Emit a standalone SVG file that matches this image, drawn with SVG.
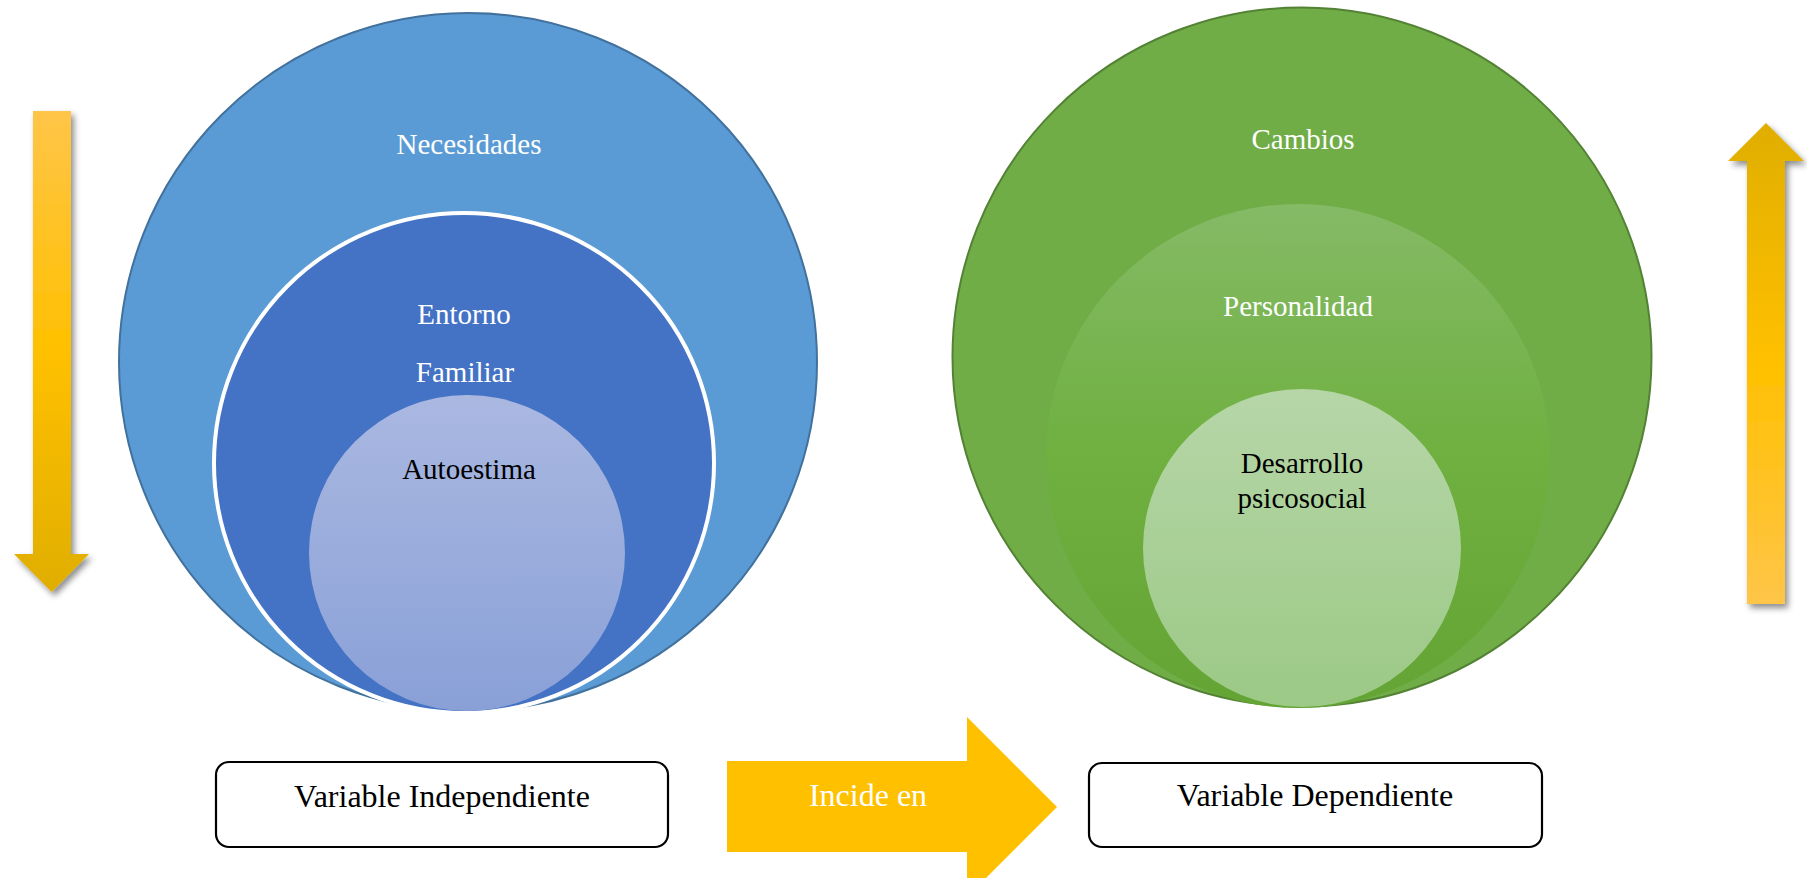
<svg xmlns="http://www.w3.org/2000/svg" width="1807" height="878" viewBox="0 0 1807 878">
<style>
  .lbl { font-family: "Liberation Serif", "Times New Roman", serif; font-size: 29px; text-anchor: middle; }
  .w { fill: #ffffff; }
  .k { fill: #000000; }
  .box { fill: #ffffff; stroke: #000000; stroke-width: 2.2; }
  .boxlbl { font-family: "Liberation Serif", "Times New Roman", serif; font-size: 32px; text-anchor: middle; fill: #000000; }
</style>
<defs>
  <linearGradient id="gAuto" x1="0" y1="0" x2="0" y2="1">
    <stop offset="0" stop-color="#AAB8E1"/>
    <stop offset="1" stop-color="#89A0D7"/>
  </linearGradient>
  <linearGradient id="gPers" x1="0" y1="0" x2="0" y2="1">
    <stop offset="0" stop-color="#85BA66"/>
    <stop offset="0.5" stop-color="#6FB040"/>
    <stop offset="1" stop-color="#63A434"/>
  </linearGradient>
  <linearGradient id="gDes" x1="0" y1="0" x2="0" y2="1">
    <stop offset="0" stop-color="#B6D6A8"/>
    <stop offset="1" stop-color="#9CC986"/>
  </linearGradient>
  <linearGradient id="gDown" x1="0" y1="0" x2="0" y2="1">
    <stop offset="0" stop-color="#FFC548"/>
    <stop offset="0.5" stop-color="#FFC000"/>
    <stop offset="1" stop-color="#E0AE00"/>
  </linearGradient>
  <linearGradient id="gUp" x1="0" y1="1" x2="0" y2="0">
    <stop offset="0" stop-color="#FFC548"/>
    <stop offset="0.5" stop-color="#FFC000"/>
    <stop offset="1" stop-color="#E0AE00"/>
  </linearGradient>
  <filter id="sh" x="-50%" y="-10%" width="200%" height="120%">
    <feDropShadow dx="3" dy="4" stdDeviation="3" flood-color="#000000" flood-opacity="0.45"/>
  </filter>
</defs>
<rect width="1807" height="878" fill="#ffffff"/>

<g id="necesidades">
  <circle cx="468" cy="362" r="349" fill="#5B9BD5" stroke="#41719C" stroke-width="2"/>
  <text class="lbl w" x="469" y="154">Necesidades</text>
</g>
<g id="entorno-familiar">
  <circle cx="464" cy="463" r="250" fill="#4472C4" stroke="#ffffff" stroke-width="4"/>
  <text class="lbl w" x="464" y="324">Entorno</text>
  <text class="lbl w" x="465" y="382">Familiar</text>
</g>
<g id="autoestima">
  <circle cx="467" cy="553" r="158" fill="url(#gAuto)"/>
  <text class="lbl k" x="469" y="479">Autoestima</text>
</g>

<g id="cambios">
  <circle cx="1302" cy="357" r="349.5" fill="#70AD47" stroke="#548235" stroke-width="2"/>
  <text class="lbl w" x="1303" y="149">Cambios</text>
</g>
<g id="personalidad">
  <circle cx="1298" cy="456" r="252" fill="url(#gPers)"/>
  <text class="lbl w" x="1298" y="316">Personalidad</text>
</g>
<g id="desarrollo">
  <circle cx="1302" cy="548" r="159" fill="url(#gDes)"/>
  <text class="lbl k" x="1302" y="473">Desarrollo</text>
  <text class="lbl k" x="1302" y="508">psicosocial</text>
</g>

<g id="variable-independiente">
  <rect class="box" x="216" y="762" width="452" height="85" rx="13"/>
  <text class="boxlbl" x="442" y="807">Variable Independiente</text>
</g>
<g id="variable-dependiente">
  <rect class="box" x="1089" y="763" width="453" height="84" rx="13"/>
  <text class="boxlbl" x="1315" y="806">Variable Dependiente</text>
</g>

<g id="connectors">
  <g id="incide-en">
    <polygon points="727,761 967,761 967,717 1057,807 967,897 967,852 727,852" fill="#FFC000"/>
    <text class="boxlbl" x="868" y="806" style="fill:#ffffff">Incide en</text>
  </g>
  <polygon id="arrow-down" points="33,111 71,111 71,554 89,554 51.7,592 14,554 33,554" fill="url(#gDown)" filter="url(#sh)"/>
  <polygon id="arrow-up" points="1766,123 1804,161 1785,161 1785,604 1747,604 1747,161 1728,161" fill="url(#gUp)" filter="url(#sh)"/>
</g>
</svg>
